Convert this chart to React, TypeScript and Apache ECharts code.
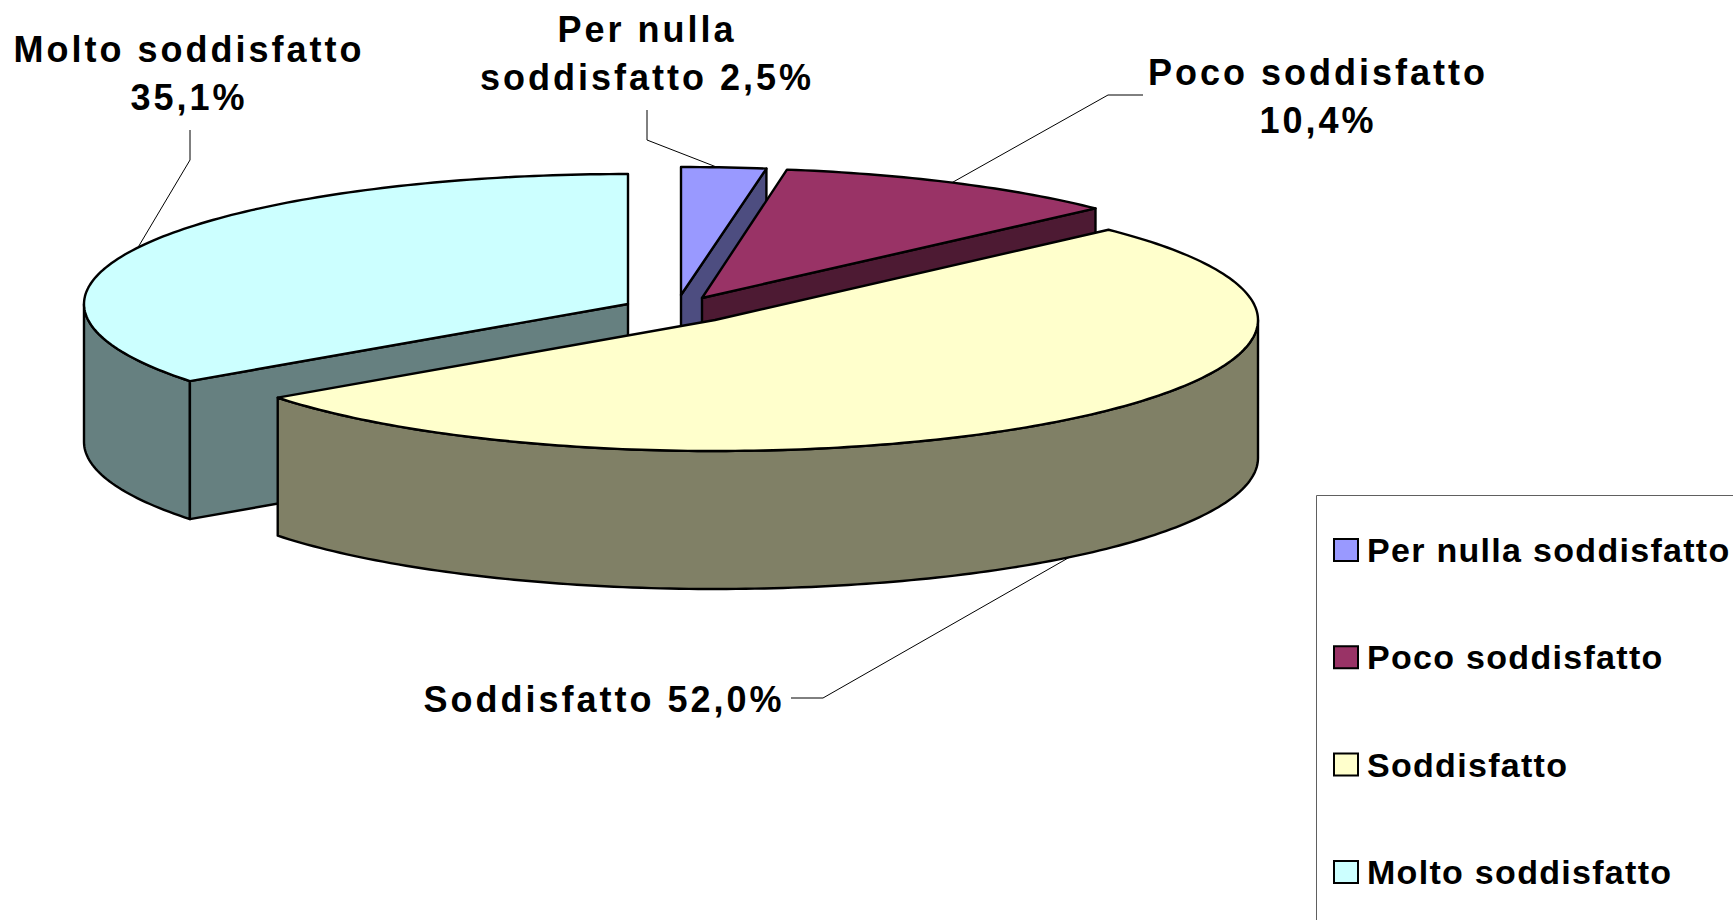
import React, { useEffect, useRef } from "react";
import * as echarts from "echarts";

const CATEGORIES = ["Per nulla soddisfatto", "Poco soddisfatto", "Soddisfatto", "Molto soddisfatto"];
const VALUES = [2.5, 10.4, 52.0, 35.1];
const LABEL_LINES = [
  ["Per nulla", "soddisfatto 2,5%"],
  ["Poco soddisfatto", "10,4%"],
  ["Soddisfatto 52,0%"],
  ["Molto soddisfatto", "35,1%"],
];

const TOP_COLORS = ["#9999FF", "#993366", "#FFFFCC", "#CCFFFF"];
const SIDE_COLORS = ["#4D4D80", "#4D1A33", "#808066", "#668080"];

// Geometry of each exploded slice
const APEX_X = [681, 702, 715, 628];
const APEX_Y = [295, 298, 320, 304];
const RX = [546, 543, 543, 544];
const RY = [128, 130, 131, 130];
const DEPTH = 138;
const DRAW_ORDER = [2, 3, 4, 1];

// Leader lines: the two fixed points near the label, then the rim of the slice
const LEADER_HEAD = [
  [[647, 110], [647, 140]],
  [[1143, 95], [1108, 95]],
  [[791, 698], [823, 698]],
  [[190, 130], [190, 160]],
];
const LEADER_ANGLE_SHIFT = [-0.7, -0.3, -0.8, -1.1];
const LABEL_X = [647, 1318, 604, 189];
const LABEL_Y = [53, 96, 699, 73];
const LABEL_LINE_HEIGHT = 48;

const FONT = '"Liberation Sans", Arial, sans-serif';

const startAngle = (idx: number) =>
  VALUES.slice(0, idx).reduce((a, b) => a + b, 0) * 3.6;

function rim(idx: number, deg: number): [number, number] {
  const r = (deg * Math.PI) / 180;
  return [APEX_X[idx] + RX[idx] * Math.sin(r), APEX_Y[idx] - RY[idx] * Math.cos(r)];
}

function arc(idx: number, from: number, to: number): [number, number][] {
  const n = Math.max(2, Math.ceil(to - from));
  const pts: [number, number][] = [];
  for (let i = 0; i <= n; i++) pts.push(rim(idx, from + ((to - from) * i) / n));
  return pts;
}

const down = (p: [number, number]): [number, number] => [p[0], p[1] + DEPTH];

function makeRenderItem(idx: number) {
  return (_params: any, api: any) => {
    const value = api.value(0);
    const a0 = startAngle(idx);
    const a1 = a0 + value * 3.6;
    const apex: [number, number] = [APEX_X[idx], APEX_Y[idx]];
    const edge = { stroke: "#000", lineWidth: 2.4, lineJoin: "round" };
    const side = { ...edge, fill: SIDE_COLORS[idx] };
    const children: any[] = [];

    const w0 = Math.max(a0, 90);
    const w1 = Math.min(a1, 270);
    if (w1 > w0) {
      const upper = arc(idx, w0, w1);
      children.push({
        type: "polygon",
        shape: { points: [...upper, ...upper.slice().reverse().map(down)] },
        style: side,
      });
    }
    const radial = a1 < 180 ? a1 : a0 > 180 ? a0 : null;
    if (radial !== null) {
      const p = rim(idx, radial);
      children.push({
        type: "polygon",
        shape: { points: [apex, p, down(p), down(apex)] },
        style: side,
      });
    }
    children.push({
      type: "polygon",
      shape: { points: [apex, ...arc(idx, a0, a1)] },
      style: { ...edge, fill: TOP_COLORS[idx] },
    });

    const mid = (a0 + a1) / 2 + LEADER_ANGLE_SHIFT[idx];
    let tip = rim(idx, mid);
    if (Math.cos((mid * Math.PI) / 180) < 0) tip = down(tip);
    children.push({
      type: "polyline",
      shape: { points: [...LEADER_HEAD[idx], tip] },
      style: { fill: null, stroke: "#000", lineWidth: 1 },
    });

    LABEL_LINES[idx].forEach((line, i) => {
      children.push({
        type: "text",
        style: {
          text: line,
          x: LABEL_X[idx],
          y: LABEL_Y[idx] + (i - (LABEL_LINES[idx].length - 1) / 2) * LABEL_LINE_HEIGHT,
          align: "center",
          verticalAlign: "middle",
          font: `bold 36px ${FONT}`,
          fill: "#000",
        },
      });
    });
    return { type: "group", children };
  };
}

export default function App() {
  const ref = useRef<HTMLDivElement>(null);
  useEffect(() => {
    const chart = echarts.init(ref.current!, null, { renderer: "svg" });
    chart.setOption({
      animation: false,
      backgroundColor: "#fff",
      legend: {
        orient: "vertical",
        left: 1333,
        top: 533,
        padding: 0,
        itemWidth: 24,
        itemHeight: 22,
        itemGap: 73.3,
        icon: "rect",
        selectedMode: false,
        data: CATEGORIES,
        itemStyle: { borderColor: "#000", borderWidth: 2 },
        textStyle: {
          fontFamily: FONT,
          fontWeight: "bold",
          fontSize: 34,
          color: "#000",
          padding: [0, 0, 0, 4],
        },
      },
      graphic: [
        {
          type: "polyline",
          shape: { points: [[1316.5, 920], [1316.5, 495.5], [1733, 495.5]] },
          style: { fill: null, stroke: "#606060", lineWidth: 1 },
        },
      ],
      series: CATEGORIES.map((name, idx) => ({
        type: "custom",
        name,
        coordinateSystem: "none",
        z: DRAW_ORDER[idx],
        silent: true,
        itemStyle: { color: TOP_COLORS[idx] },
        data: [[VALUES[idx]]],
        renderItem: makeRenderItem(idx),
      })),
    });
    return () => chart.dispose();
  }, []);
  return (
    <>
      <style>{`
        html, body { margin: 0; overflow: hidden; background: #fff; }
        text[style*="36px"] { letter-spacing: 3px; }
        text[style*="34px"] { letter-spacing: 1.3px; }
      `}</style>
      <div ref={ref} style={{ position: "absolute", left: 0, top: 0, width: 1733, height: 920 }} />
    </>
  );
}
